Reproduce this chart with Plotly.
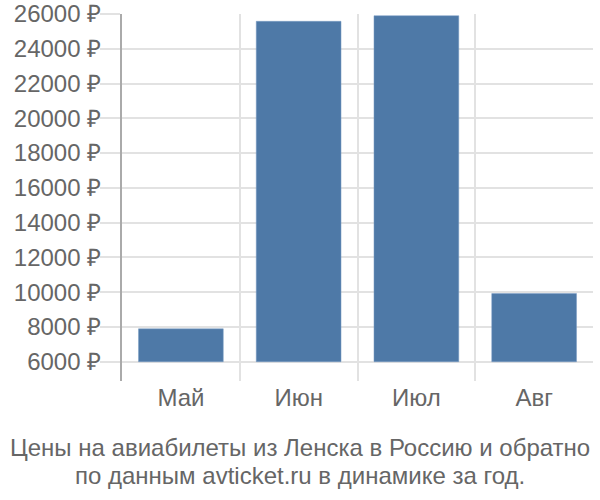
import plotly.graph_objs as go

# data
months = ["Май", "Июн", "Июл", "Авг"]
prices = [7890, 25580, 25900, 9920]
y_ticks = [6000, 8000, 10000, 12000, 14000, 16000, 18000, 20000, 22000, 24000, 26000]
base_price = 6000

title_lines = ["Цены на авиабилеты из Ленска в Россию и обратно",
               "по данным avticket.ru в динамике за год."]

fig = go.Figure()

fig.add_trace(go.Bar(
    x=months,
    y=[p - base_price for p in prices],
    base=base_price,
    marker=dict(color="#4e79a7", line=dict(color="#7a9cc4", width=0.5)),
    hoverinfo="skip",
))

fig.update_layout(
    width=600, height=500,
    margin=dict(l=122, r=7, t=14, b=119, autoexpand=False),
    paper_bgcolor="white",
    plot_bgcolor="white",
    font=dict(family="Liberation Sans, Arial, sans-serif", size=24, color="#666666"),
    bargap=0.28,
    showlegend=False,
)

# caption under the chart, one annotation per line, centred on the page
for i, line in enumerate(title_lines):
    fig.add_annotation(
        text=line,
        xref="paper", yref="paper",
        x=(300 - 122) / 471, xanchor="center",
        y=(381 - 447 - 28 * i) / 367, yanchor="middle",
        showarrow=False,
        font=dict(size=24, color="#666666"),
    )

fig.update_xaxes(
    type="category",
    tickson="boundaries",
    showgrid=True,
    gridcolor="#e2e2e2",
    gridwidth=2,
    ticks="",
    showline=False,
    zeroline=False,
    automargin=False,
    tickfont=dict(size=24, color="#666666"),
)

fig.update_yaxes(
    range=[4890, 26000],
    tickvals=y_ticks,
    ticktext=[f"{v} ₽" for v in y_ticks],
    showgrid=True,
    gridcolor="#e2e2e2",
    gridwidth=2,
    ticks="outside",
    ticklen=20,
    tickcolor="#e2e2e2",
    tickwidth=2,
    ticklabelstandoff=-6,
    showline=True,
    linecolor="#aaaaaa",
    linewidth=2,
    zeroline=False,
    automargin=False,
    tickfont=dict(size=24, color="#666666"),
)

# page body has an 8px margin by default; drop it so the figure sits at 0,0
fig.write_html("out.html", config={"displayModeBar": False},
               post_script="document.body.style.margin='0';")
